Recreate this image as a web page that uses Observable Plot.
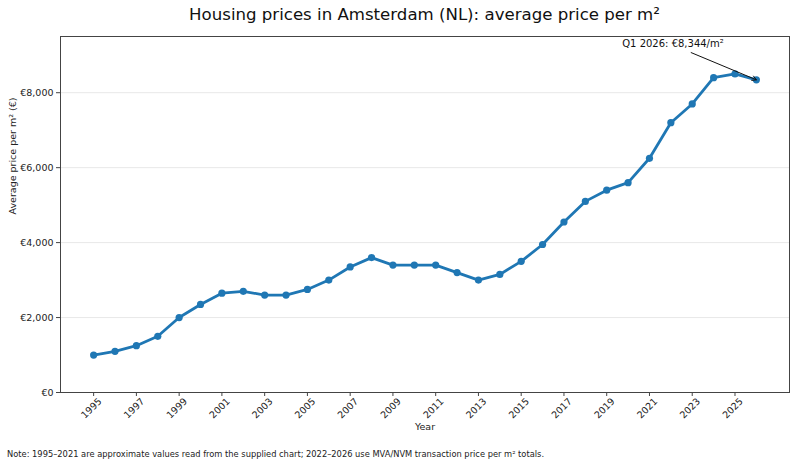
<!DOCTYPE html>
<html>
<head>
<meta charset="utf-8">
<script src="https://cdn.jsdelivr.net/npm/d3@7"></script>
<script src="https://cdn.jsdelivr.net/npm/@observablehq/plot@0.6"></script>
<style>
  body { margin: 0; background: #fff; font-family: "DejaVu Sans", sans-serif; }
  #wrap { width: 795px; height: 467px; position: relative; overflow: hidden; }
  #title { height: 30px; line-height: 30px; font-size: 16.6px; color: #111; width: 729px; margin-left: 60px; text-align: center; }
  #caption { font-size: 8.3px; color: #222; padding-left: 7px; margin-top: 4px; }
  svg { display: block; }
</style>
</head>
<body>
<div id="wrap">
  <div id="title">Housing prices in Amsterdam (NL): average price per m²</div>
  <div id="chart"></div>
  <div id="caption">Note: 1995–2021 are approximate values read from the supplied chart; 2022–2026 use MVA/NVM transaction price per m² totals.</div>
</div>
<script>
const years = [1995,1996,1997,1998,1999,2000,2001,2002,2003,2004,2005,2006,2007,2008,2009,2010,2011,2012,2013,2014,2015,2016,2017,2018,2019,2020,2021,2022,2023,2024,2025,2026];
const prices = [1000,1100,1250,1500,2000,2350,2650,2700,2600,2600,2750,3000,3350,3600,3400,3400,3400,3200,3000,3150,3500,3950,4550,5100,5400,5600,6250,7200,7700,8400,8500,8344];
const xTicks = [1995,1997,1999,2001,2003,2005,2007,2009,2011,2013,2015,2017,2019,2021,2023,2025];
const yTicks = [0,2000,4000,6000,8000];
const annotationText = ["Q1 2026: €8,344/m²"];
const annotationTextAt = [{year: 2022.1, price: 9300}];
const annotationArrow = [{x1: 2022.95, y1: 9070, x2: 2026, y2: 8344}];

const data = years.map((y, i) => ({year: y, price: prices[i]}));
const fmt = d => "€" + d3.format(",")(d);

const chart = Plot.plot({
  width: 795,
  height: 415,
  marginTop: 6,
  marginLeft: 60,
  marginRight: 6,
  marginBottom: 53,
  style: {fontFamily: "DejaVu Sans, sans-serif", fontSize: "9px", color: "#222", background: "#fff"},
  x: {domain: [1993.45, 2027.55], axis: null},
  y: {domain: [0, 9500], axis: null},
  marks: [
    Plot.ruleY(yTicks.filter(d => d > 0), {stroke: "#e8e8e8", strokeWidth: 1}),
    Plot.frame({stroke: "#444", strokeWidth: 1}),
    Plot.axisX({ticks: xTicks, tickSize: 4, tickFormat: () => "", stroke: "#444"}),
    Plot.text(xTicks, {x: d => d, frameAnchor: "bottom", dy: 18, rotate: -45, textAnchor: "middle", text: d => String(d), fontSize: 9.5, fill: "#222"}),
    Plot.axisY({ticks: yTicks, tickSize: 4, tickFormat: fmt, tickPadding: 3, fontSize: 9.5, stroke: "#444"}),
    Plot.text(["Year"], {frameAnchor: "bottom", dy: 37, fontSize: 9.5, fill: "#222"}),
    Plot.text(["Average price per m² (€)"], {frameAnchor: "left", dx: -48, rotate: -90, fontSize: 9.5, fill: "#222"}),
    Plot.line(data, {x: "year", y: "price", stroke: "#1f77b4", strokeWidth: 2.8}),
    Plot.dot(data, {x: "year", y: "price", fill: "#1f77b4", r: 3.6}),
    Plot.arrow(annotationArrow, {x1: "x1", y1: "y1", x2: "x2", y2: "y2", stroke: "#111", strokeWidth: 1, headLength: 7, bend: 0}),
    Plot.text(annotationTextAt, {x: "year", y: "price", text: (d, i) => annotationText[i], fontSize: 10, fill: "#111"})
  ]
});
document.getElementById("chart").appendChild(chart);
</script>
</body>
</html>
